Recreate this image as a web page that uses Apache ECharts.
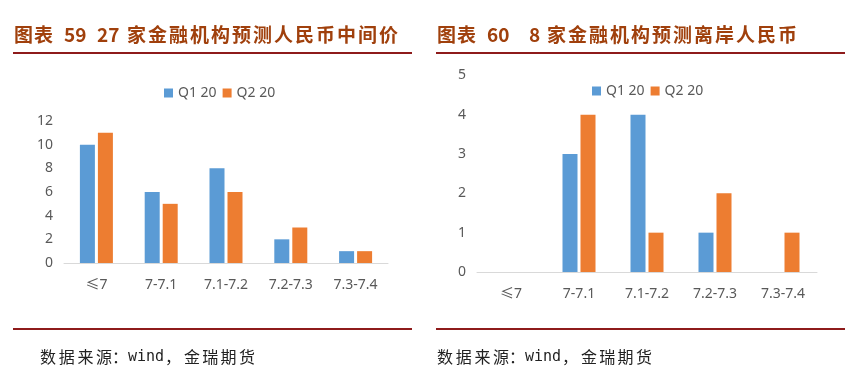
<!DOCTYPE html>
<html>
<head>
<meta charset="utf-8">
<script src="https://cdn.jsdelivr.net/npm/echarts@6/dist/echarts.min.js"></script>
<style>
html,body{margin:0;padding:0;background:#fff;}
#c{width:860px;height:387px;}
</style>
</head>
<body>
<div id="c"></div>
<script>
// ---- data ----
const categories = ['≤7', '7-7.1', '7.1-7.2', '7.2-7.3', '7.3-7.4'];
const seriesNames = ['Q1 20', 'Q2 20'];
const leftQ1 = [10, 6, 8, 2, 1];
const leftQ2 = [11, 5, 6, 3, 1];
const rightQ1 = [0, 3, 4, 1, 0];
const rightQ2 = [0, 4, 1, 2, 1];
const leftTitleParts = ['图表', '59', '27', '家金融机构预测人民币中间价'];
const rightTitleParts = ['图表', '60', '8', '家金融机构预测离岸人民币'];
const sourceParts = ['数据来源', '：', 'wind', '，', '金瑞期货'];

const BLUE = '#5B9BD5', ORANGE = '#ED7D31';
const TITLE_COLOR = '#A0400C', LINE_COLOR = '#8E1B1B';
const FONT = '"Noto Sans", "Noto Sans CJK SC", sans-serif';
const CJK = '"Noto Sans CJK SC", sans-serif';

function titleGraphics(parts, starts, cjkStep, y) {
  const els = [];
  const mk = (t, x) => els.push({type:'text', x:x, y:y, style:{text:t, fill:TITLE_COLOR, font:'bold 19px ' + CJK, textVerticalAlign:'middle'}});
  mk(parts[0][0], starts[0]); mk(parts[0][1], starts[0] + 20);
  mk(parts[1], starts[1]);
  mk(parts[2], starts[2]);
  Array.from(parts[3]).forEach((ch, i) => mk(ch, starts[3] + i * cjkStep));
  return els;
}
function sourceGraphics(x0, y) {
  const els = [];
  const mk = (t, x, font) => els.push({type:'text', x:x, y:y, style:{text:t, fill:'#222', font:font, textVerticalAlign:'middle'}});
  Array.from(sourceParts[0]).forEach((ch, i) => mk(ch, x0 + i * 18.7, '16px ' + CJK));
  mk(sourceParts[1], x0 + 72, '16px ' + CJK);
  mk(sourceParts[2], x0 + 88, '15px "DejaVu Sans Mono", monospace');
  mk(sourceParts[3], x0 + 125, '16px ' + CJK);
  Array.from(sourceParts[4]).forEach((ch, i) => mk(ch, x0 + 144 + i * 18.3, '16px ' + CJK));
  return els;
}

const graphics = [].concat(
  titleGraphics(leftTitleParts, [14, 64, 97, 127], 21, 35),
  titleGraphics(rightTitleParts, [437, 487, 529, 547], 21, 35),
  sourceGraphics(40, 357),
  sourceGraphics(437, 357),
  [
    {type:'line', shape:{x1:13, y1:53, x2:412, y2:53}, style:{stroke:LINE_COLOR, lineWidth:2}},
    {type:'line', shape:{x1:436, y1:53, x2:845, y2:53}, style:{stroke:LINE_COLOR, lineWidth:2}},
    {type:'line', shape:{x1:13, y1:329, x2:412, y2:329}, style:{stroke:LINE_COLOR, lineWidth:2}},
    {type:'line', shape:{x1:436, y1:329, x2:845, y2:329}, style:{stroke:LINE_COLOR, lineWidth:2}}
  ]
);

const axisLabel = {color:'#595959', fontSize:14, fontFamily:FONT};
function xAxis(gi, margin) {
  return {type:'category', gridIndex:gi, data:categories,
    axisLine:{lineStyle:{color:'#D9D9D9', width:1}}, axisTick:{show:false},
    axisLabel:Object.assign({margin:margin}, axisLabel)};
}
function yAxis(gi, max, interval) {
  return {type:'value', gridIndex:gi, min:0, max:max, interval:interval,
    axisLine:{show:false}, axisTick:{show:false}, splitLine:{show:false},
    axisLabel:Object.assign({margin:11}, axisLabel)};
}
function bar(name, data, idx, color) {
  return {type:'bar', name:name, data:data, xAxisIndex:idx, yAxisIndex:idx,
    barWidth:15, barGap:'20%', itemStyle:{color:color}, animation:false};
}

const chart = echarts.init(document.getElementById('c'), null, {renderer:'canvas'});
chart.setOption({
  animation:false,
  backgroundColor:'#fff',
  textStyle:{fontFamily:FONT},
  legend:[
    {data:seriesNames, left:159, top:81, itemWidth:9, itemHeight:9, itemGap:6, icon:'rect',
     textStyle:{color:'#595959', fontSize:14, fontFamily:FONT}},
    {data:seriesNames, left:587, top:79, itemWidth:9, itemHeight:9, itemGap:6, icon:'rect',
     textStyle:{color:'#595959', fontSize:14, fontFamily:FONT}}
  ],
  grid:[
    {left:64, right:472, top:121, bottom:124, containLabel:false},
    {left:477, right:43, top:75.3, bottom:115, containLabel:false}
  ],
  xAxis:[xAxis(0, 15), xAxis(1, 15)],
  yAxis:[yAxis(0, 12, 2), yAxis(1, 5, 1)],
  series:[
    bar(seriesNames[0], leftQ1, 0, BLUE),
    bar(seriesNames[1], leftQ2, 0, ORANGE),
    bar(seriesNames[0], rightQ1, 1, BLUE),
    bar(seriesNames[1], rightQ2, 1, ORANGE)
  ],
  graphic:graphics
});
</script>
</body>
</html>
